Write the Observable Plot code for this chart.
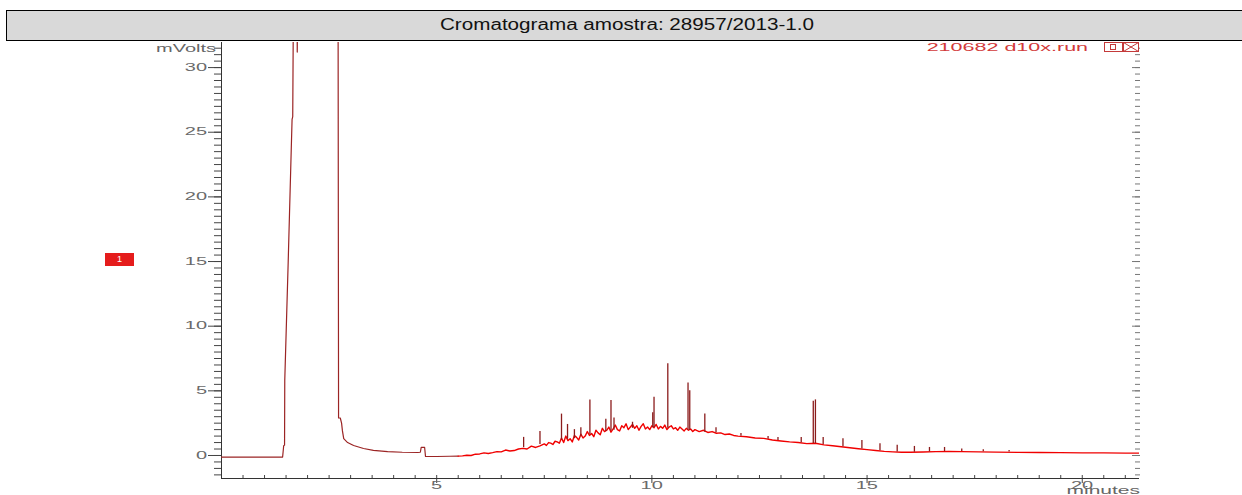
<!DOCTYPE html>
<html><head><meta charset="utf-8">
<script src="https://cdn.jsdelivr.net/npm/d3@7"></script>
<script src="https://cdn.jsdelivr.net/npm/@observablehq/plot@0.6"></script>
<style>
body{margin:0;background:#fff;}
#wrap{position:relative;width:1242px;height:495px;overflow:hidden;font-family:"Liberation Sans",Arial,sans-serif;}
#title{position:absolute;left:6px;top:10px;width:1240px;height:31px;box-sizing:border-box;background:#d9d9d9;border:1px solid #000;border-right:none;text-align:center;line-height:28px;font-size:16px;color:#111;}
#title span{display:inline-block;transform:scaleX(1.29);transform-origin:50% 50%;}
#chart{position:absolute;left:0;top:40px;}
.lbl{position:absolute;white-space:nowrap;font-size:10px;line-height:10px;}
#mv{right:calc(1242px - 216px);top:44px;color:#666;transform:scaleX(2);transform-origin:100% 50%;}
#min{right:calc(1242px - 1140px);top:486px;color:#666;transform:scaleX(2.1);transform-origin:100% 50%;}
#leg{right:calc(1242px - 1088px);top:43px;color:#d23a3a;transform:scaleX(2.15);transform-origin:100% 50%;}
#icons{position:absolute;left:1104px;top:42px;}
#mark1{position:absolute;left:105px;top:253px;width:29px;height:13px;background:#e51c1c;color:#fff;font-size:9px;line-height:13px;text-align:center;}
</style></head>
<body>
<div id="wrap">
  <div id="title"><span>Cromatograma amostra: 28957/2013-1.0</span></div>
  <div id="chart"></div>
  <div class="lbl" id="mv">mVolts</div>
  <div class="lbl" id="min">minutes</div>
  <div class="lbl" id="leg">210682 d10x.run</div>
  <svg id="icons" width="37" height="11">
    <rect x="0.5" y="0.5" width="18" height="9" fill="#fff" stroke="#c43a3a"/>
    <rect x="6.5" y="2.5" width="5" height="5" fill="none" stroke="#c43a3a"/>
    <rect x="19.5" y="0.5" width="15" height="9" fill="#fff" stroke="#c43a3a"/>
    <path d="M19.5,0.5L34.5,9.5M34.5,0.5L19.5,9.5" stroke="#c43a3a"/>
  </svg>
  <div id="mark1">1</div>
</div>
<script>
// ---- data ----
const traceT = [0, 1.42, 1.445, 1.465, 1.47, 1.55, 1.62, 1.64, 1.655, 1.68, 1.75, 1.76, 1.78, 1.8, 2.70, 2.72, 2.76, 2.79, 2.81, 2.84, 2.93, 3.07, 3.30, 3.53, 3.86, 4.2, 4.56, 4.62, 4.64, 4.72, 4.74, 5.0, 5.3, 5.5,
  5.6, 5.7, 5.8, 5.9, 6.0, 6.1, 6.2, 6.3, 6.4, 6.5, 6.6, 6.7, 6.8, 6.9, 7.0, 7.1, 7.2, 7.3, 7.4,
  7.5, 7.55, 7.6, 7.65, 7.7, 7.75, 7.8, 7.85, 7.9, 7.95,
  8.0, 8.05, 8.1, 8.15, 8.2, 8.25, 8.3, 8.35, 8.4, 8.45,
  8.5, 8.55, 8.6, 8.65, 8.7, 8.75, 8.8, 8.85, 8.9, 8.95,
  9.0, 9.05, 9.1, 9.15, 9.2, 9.25, 9.3, 9.35, 9.4, 9.45,
  9.5, 9.55, 9.6, 9.65, 9.7, 9.75, 9.8, 9.85, 9.9, 9.95,
  10.0, 10.05, 10.1, 10.15, 10.2, 10.25, 10.3, 10.35, 10.4, 10.45,
  10.5, 10.55, 10.6, 10.65, 10.7, 10.75, 10.8, 10.85, 10.9, 10.95, 11.0,
  11.1, 11.2, 11.3, 11.4, 11.5, 11.6, 11.7, 11.8, 11.9, 12.0, 12.2, 12.4, 12.6, 12.8, 13.0, 13.2, 13.4, 13.6, 13.8,
  14.0, 14.2, 14.4, 14.6, 14.8, 15.0, 15.2, 15.4, 15.6, 15.8, 16.0, 16.3, 16.6, 16.9, 17.2, 17.6, 18.0, 18.5, 19.0, 19.5, 20.0, 20.5, 21.0, 21.33];
const traceV = [-0.12, -0.12, 0.75, 0.8, 5.8, 15, 23.6, 26, 26.2, 40, 40, 31.2, 40, 60, 60, 2.9, 2.9, 2.5, 1.9, 1.3, 1.0, 0.77, 0.54, 0.4, 0.3, 0.25, 0.23, 0.25, 0.62, 0.62, -0.08, -0.08, -0.06, -0.05,
  -0.03, 0.02, 0.0, 0.1, 0.12, 0.2, 0.15, 0.22, 0.3, 0.28, 0.42, 0.35, 0.38, 0.5, 0.55, 0.5, 0.72, 0.62, 0.75,
  0.9, 0.78, 1.0, 0.95, 0.85, 1.1, 1.05, 0.95, 1.35, 1.0,
  1.5, 1.15, 1.3, 1.05, 1.55, 1.4, 1.2, 1.65, 1.35, 1.5,
  1.85, 1.55, 1.7, 1.45, 1.95, 1.75, 1.6, 2.1, 1.85, 1.95,
  2.2, 1.8, 2.05, 2.35, 2.0, 1.9, 2.3, 2.15, 2.45, 2.0,
  2.2, 2.4, 2.1, 2.3, 1.95, 2.25, 2.45, 2.05, 2.2, 2.0,
  2.3, 2.15, 2.4, 2.05, 2.25, 2.1, 2.35, 2.0, 2.2, 2.3,
  2.05, 2.15, 1.95, 2.2, 2.05, 1.9, 2.1, 1.95, 2.05, 1.85, 2.0,
  1.85, 1.95, 1.78, 1.85, 1.72, 1.75, 1.62, 1.66, 1.55, 1.5, 1.45, 1.35, 1.32, 1.2, 1.12, 1.05, 1.0, 0.92, 0.95,
  0.82, 0.75, 0.68, 0.6, 0.52, 0.45, 0.38, 0.32, 0.28, 0.25, 0.25, 0.27, 0.3, 0.32, 0.3, 0.28, 0.26, 0.24, 0.23, 0.22, 0.2, 0.2, 0.18, 0.18];

const peakT    = [7.02, 7.4, 7.9, 8.04, 8.2, 8.35, 8.56, 8.93, 9.05, 9.12, 9.55, 10.02, 10.05, 10.37, 10.84, 10.88, 11.23, 11.49, 12.07, 12.7, 12.93, 13.47, 13.75, 13.8, 13.98, 14.44, 14.88, 15.3, 15.7, 16.1, 16.45, 16.8, 17.2, 17.7, 18.3];
const peakBase = [0.6, 0.85, 1.2, 1.25, 1.3, 1.45, 1.6, 1.85, 1.9, 1.95, 2.1, 2.15, 2.15, 2.1, 1.95, 1.95, 1.8, 1.75, 1.48, 1.25, 1.15, 0.98, 0.92, 0.92, 0.85, 0.68, 0.5, 0.36, 0.27, 0.25, 0.28, 0.3, 0.3, 0.28, 0.26];
const peakTop  = [1.4, 1.85, 3.2, 2.4, 2.0, 2.15, 4.3, 2.8, 4.25, 2.9, 2.57, 3.3, 4.5, 7.1, 5.6, 5.0, 3.2, 2.15, 1.7, 1.47, 1.4, 1.4, 4.2, 4.3, 1.4, 1.3, 1.15, 0.9, 0.8, 0.7, 0.62, 0.62, 0.5, 0.45, 0.38];

const yMajor = [0, 5, 10, 15, 20, 25, 30];
const xMajor = [5, 10, 15, 20];
const yMinor = d3.range(-1.5, 31.6, 0.5);
const xMinor = d3.range(0.5, 21.3, 0.5);

const trace = traceT.map((t, i) => ({t, v: traceV[i]}));
const peaks = peakT.map((t, i) => ({t, b: peakBase[i], top: peakTop[i]}));
const yMin = -1.78, yMax = 31.94;
const blank = () => "";

const plot = Plot.plot({
  width: 1242, height: 455,
  marginLeft: 221, marginRight: 103, marginTop: 2, marginBottom: 17,
  style: {fontFamily: "Liberation Sans, Arial, sans-serif", fontSize: "10px", background: "transparent", overflow: "visible"},
  x: {domain: [0, 21.33]},
  y: {domain: [yMin, yMax]},
  marks: [
    Plot.axisY({ticks: yMajor, tickSize: 13, tickPadding: 1, label: null, stroke: "#444", fill: "#6a6a6a"}),
    Plot.axisY({ticks: yMinor, tickSize: 7, tickFormat: blank, label: null, stroke: "#444"}),
    Plot.axisY({anchor: "right", ticks: yMinor, tickSize: 5, dx: -5, tickFormat: blank, label: null, stroke: "#777"}),
    Plot.axisY({anchor: "right", ticks: yMajor, tickSize: 8, dx: -8, tickFormat: blank, label: null, stroke: "#777"}),
    Plot.axisX({ticks: xMajor, tickSize: 5, tickPadding: -2, label: null, stroke: "#444", fill: "#6a6a6a"}),
    Plot.axisX({ticks: xMinor, tickSize: 3, dy: -3, tickFormat: blank, label: null, stroke: "#444"}),
    Plot.ruleX([0], {stroke: "#333"}),
    Plot.ruleY([yMin], {stroke: "#333"}),
    Plot.line(trace.filter(d => d.t <= 5.5), {x: "t", y: "v", stroke: "#9b2424", strokeWidth: 1.2, clip: true}),
    Plot.line(trace.filter(d => d.t >= 5.5), {x: "t", y: "v", stroke: "#f00000", strokeWidth: 1.4, clip: true}),
    Plot.ruleX(peaks, {x: "t", y1: "b", y2: "top", stroke: "#8b1c1c", strokeWidth: 1.3})
  ]
});

document.getElementById("chart").appendChild(plot);
// stretch the axis labels horizontally around their anchor, as in the source picture
plot.querySelectorAll("text").forEach(el => {
  if (!el.textContent) { el.remove(); return; }
  const b = el.getBBox();
  const anchor = getComputedStyle(el).textAnchor;
  const ax = anchor === "end" ? b.x + b.width : anchor === "middle" ? b.x + b.width / 2 : b.x;
  const ay = b.y + b.height / 2;
  const t = el.getAttribute("transform") || "";
  el.setAttribute("transform", `${t} translate(${ax},${ay}) scale(2,1) translate(${-ax},${-ay})`);
});
</script>
</body></html>
